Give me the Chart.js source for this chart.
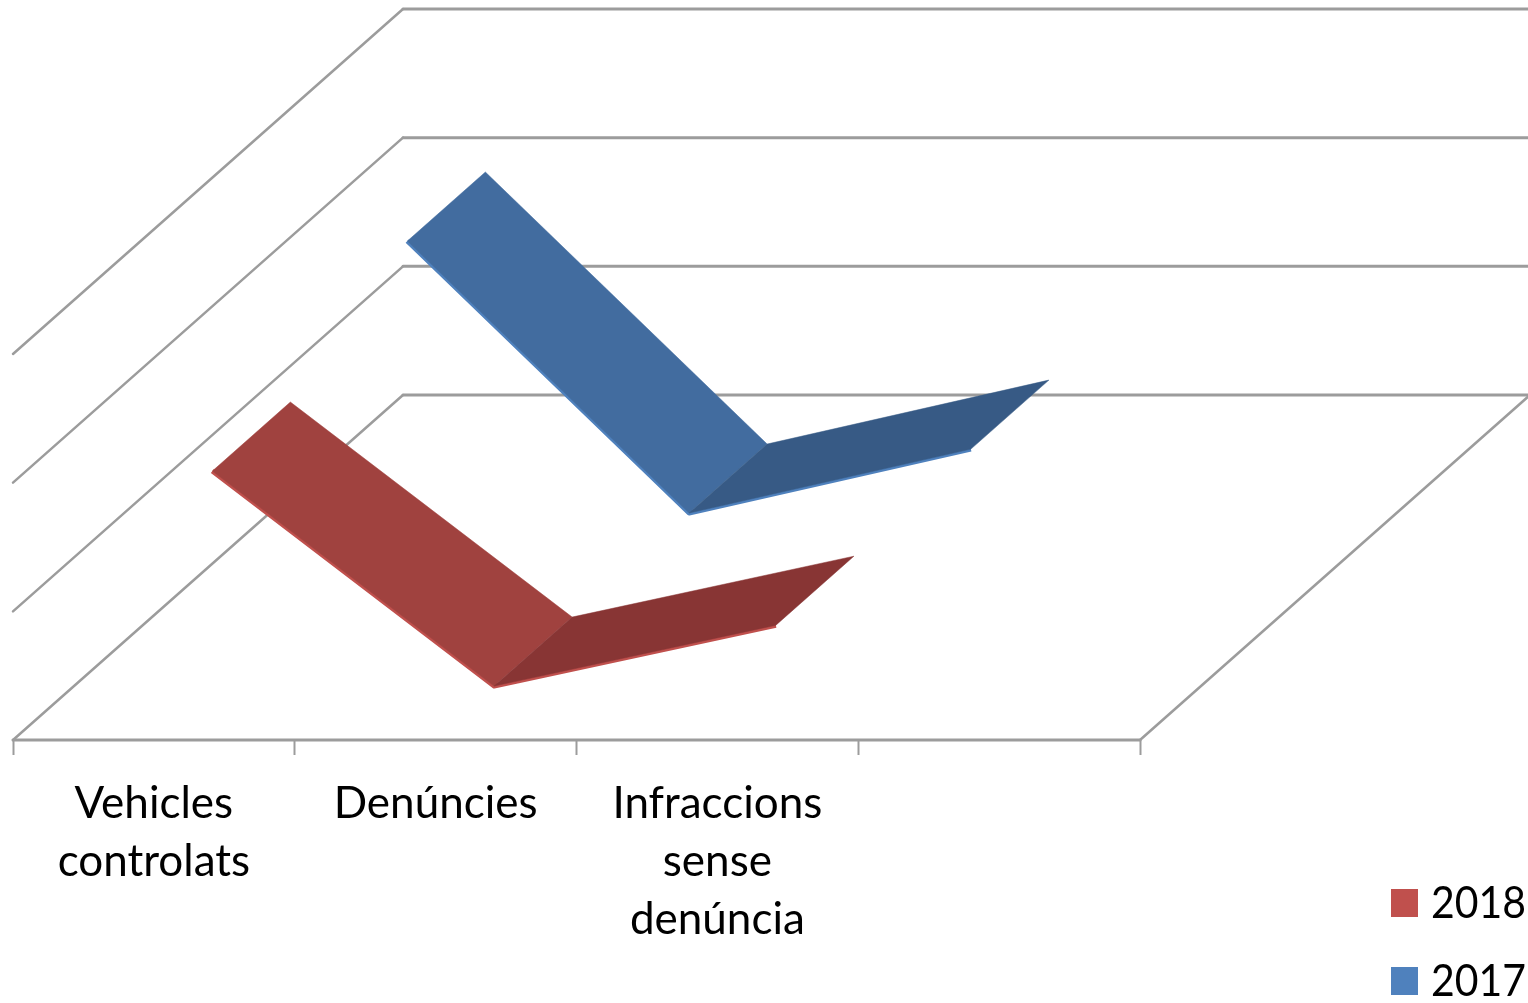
<!DOCTYPE html>
<html>
<head>
<meta charset="utf-8">
<style>
  html, body { margin: 0; padding: 0; background: #fff; }
  #wrap { width: 1528px; height: 1003px; position: relative; overflow: hidden; }
</style>
<script src="https://cdn.jsdelivr.net/npm/chart.js@4/dist/chart.umd.min.js"></script>
</head>
<body>
<div id="wrap"><canvas id="chart" width="1528" height="1003"></canvas></div>
<script>
const categories = [['Vehicles', 'controlats'], 'Denúncies', ['Infraccions', 'sense', 'denúncia'], ''];
const seriesNames = ['2018', '2017'];
const values2018 = [1688, 17, 490, null];
const values2017 = [2135, 21, 518, null];
const gridTicks = [0, 1000, 2000, 3000];

// look of the fake 3d box
const depthX = 390;
const depthY = -345;
const ribbonFrom = 0.3;
const ribbonTo = 0.7;
const gridColor = '#9c9c9c';
const fontName = 'Lato, "Open Sans", sans-serif';

function drawPoly(ctx, pts, fill) {
    ctx.beginPath();
    pts.forEach((p, i) => i ? ctx.lineTo(p[0], p[1]) : ctx.moveTo(p[0], p[1]));
    ctx.closePath();
    ctx.fillStyle = fill;
    ctx.fill();
    ctx.strokeStyle = fill;
    ctx.lineWidth = 0.5;
    ctx.stroke();
}

// walls and floor, drawn from the y scale
const boxPlugin = {
    id: 'box3d',
    beforeDatasetsDraw(chart) {
        const ctx = chart.ctx;
        const yScale = chart.scales.y;
        const area = chart.chartArea;
        ctx.save();
        ctx.lineCap = 'round';
        gridTicks.forEach(tick => {
            const y = yScale.getPixelForValue(tick);
            ctx.strokeStyle = gridColor;
            ctx.lineWidth = 2.5;
            ctx.beginPath();
            ctx.moveTo(area.left, y);
            ctx.lineTo(area.left + depthX, y + depthY);
            ctx.stroke();
            ctx.lineWidth = 3;
            ctx.beginPath();
            ctx.moveTo(area.left + depthX, y + depthY);
            ctx.lineTo(chart.width, y + depthY);
            ctx.stroke();
        });
        // floor front and right edge
        ctx.lineWidth = 2.5;
        ctx.beginPath();
        ctx.moveTo(area.right, area.bottom);
        ctx.lineTo(area.right + depthX, area.bottom + depthY);
        ctx.stroke();
        ctx.lineWidth = 3;
        ctx.beginPath();
        ctx.moveTo(area.left, area.bottom);
        ctx.lineTo(area.right, area.bottom);
        ctx.stroke();
        ctx.restore();
    },
    afterDatasetsDraw(chart) {
        const ctx = chart.ctx;
        const count = chart.data.datasets.length;
        ctx.save();
        chart.data.datasets.forEach((ds, i) => {
            const pts = chart.getDatasetMeta(i).data.filter((p, j) => ds.data[j] !== null);
            const near = (i + ribbonFrom) / count;
            const far = (i + ribbonTo) / count;
            const front = pts.map(p => [p.x + near * depthX, p.y + near * depthY]);
            const back = pts.map(p => [p.x + far * depthX, p.y + far * depthY]);
            ctx.strokeStyle = ds.borderColor;
            ctx.lineWidth = 5;
            ctx.lineJoin = 'round';
            ctx.beginPath();
            front.forEach((p, j) => j ? ctx.lineTo(p[0], p[1]) : ctx.moveTo(p[0], p[1]));
            ctx.stroke();
            for (let j = 0; j < front.length - 1; j++) {
                const down = front[j + 1][1] > front[j][1];
                drawPoly(ctx, [front[j], front[j + 1], back[j + 1], back[j]],
                    down ? ds.faceColor : ds.shadeColor);
            }
        });
        ctx.restore();
    },
    afterDraw(chart) {
        // legend sits in the corner, under the plot box
        const ctx = chart.ctx;
        ctx.save();
        ctx.font = '44px ' + fontName;
        ctx.textBaseline = 'middle';
        ctx.textAlign = 'left';
        chart.data.datasets.forEach((ds, i) => {
            const top = 889 + i * 78;
            ctx.fillStyle = ds.borderColor;
            ctx.fillRect(1391, top, 27, 28);
            ctx.fillStyle = '#000';
            ctx.fillText(ds.label, 1431, top + 15, 95);
        });
        ctx.restore();
    }
};

new Chart(document.getElementById('chart'), {
    type: 'line',
    data: {
        labels: categories,
        datasets: [
            { label: seriesNames[0], data: values2018, borderColor: '#c0504d', backgroundColor: '#c0504d',
              faceColor: '#a0423f', shadeColor: '#883534', showLine: false, pointRadius: 0 },
            { label: seriesNames[1], data: values2017, borderColor: '#4f81bd', backgroundColor: '#4f81bd',
              faceColor: '#426c9f', shadeColor: '#375a85', showLine: false, pointRadius: 0 }
        ]
    },
    options: {
        responsive: false,
        animation: false,
        clip: false,
        layout: { autoPadding: false, padding: { left: 13, right: 388, top: 354, bottom: 0 } },
        plugins: { legend: { display: false }, tooltip: { enabled: false } },
        scales: {
            x: {
                type: 'category',
                offset: true,
                border: { display: false },
                grid: { offset: true, drawOnChartArea: false, drawTicks: true, tickLength: 15, tickWidth: 2, color: gridColor },
                ticks: {
                    autoSkip: false, maxRotation: 0, minRotation: 0, padding: 20, color: '#000',
                    font: { family: fontName, size: 44, lineHeight: 1.32 }
                },
                afterFit(scale) { scale.height = 263; }
            },
            y: { display: false, min: 0, max: 3000 }
        }
    },
    plugins: [boxPlugin]
});
</script>
</body>
</html>
